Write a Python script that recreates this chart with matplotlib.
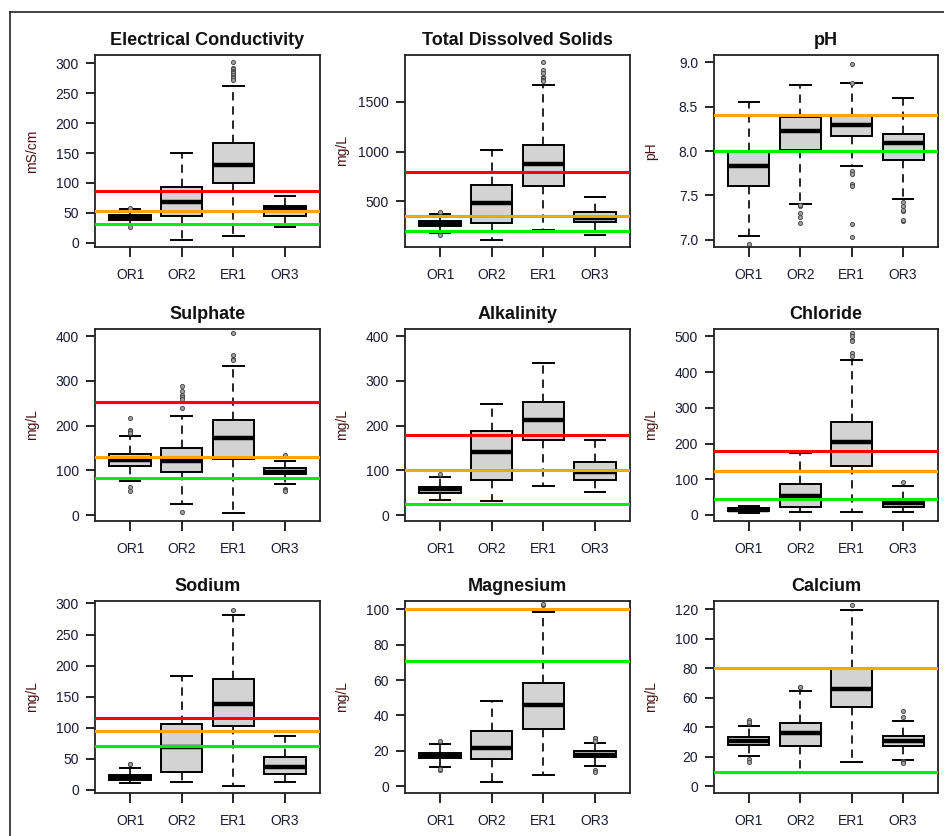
import matplotlib
matplotlib.use("Agg")
import matplotlib.pyplot as plt
from matplotlib.lines import Line2D

plt.rcParams['font.family'] = ['Liberation Sans', 'DejaVu Sans']

sites = ["OR1", "OR2", "ER1", "OR3"]

# per site: [lower whisker, Q1, median, Q3, upper whisker]
ec_stats = [[30, 38, 42, 47, 56], [5, 44, 68, 94, 150], [12, 100, 130, 167, 263], [26, 44, 56, 61, 79]]
ec_fliers = [[58, 26], [], [303, 292, 290, 288, 286, 284, 281, 278, 275, 272], []]
ec_limits = [87, 53, 32]  # red, orange, green

tds_stats = [[180, 250, 275, 300, 370], [117, 283, 483, 667, 1017], [217, 657, 877, 1067, 1663], [167, 290, 333, 393, 543]]
tds_fliers = [[390, 160], [], [1900, 1817, 1783, 1750, 1735, 1720, 1705], []]
tds_limits = [800, 357, 207]

ph_stats = [[7.045, 7.608, 7.826, 7.995, 8.557], [7.405, 8.01, 8.23, 8.38, 8.74], [7.826, 8.17, 8.295, 8.39, 8.765], [7.46, 7.90, 8.09, 8.19, 8.595]]
ph_fliers = [[6.955], [7.38, 7.39, 7.30, 7.26, 7.19], [8.98, 8.77, 7.78, 7.74, 7.62, 7.63, 7.61, 7.18, 7.03], [7.43, 7.38, 7.32, 7.33, 7.21, 7.22]]
ph_limits = [None, 8.41, 8.0]

so4_stats = [[76, 110, 123, 137, 178], [26, 96, 120, 150, 222], [5, 125, 172, 212, 333], [70, 91, 97, 105, 120]]
so4_fliers = [[217, 190, 187, 183, 64, 55], [289, 277, 269, 264, 260, 239, 7], [406, 359, 348, 346], [135, 58, 56, 55]]
so4_limits = [254, 129, 83]

alk_stats = [[35, 50, 58, 64, 86], [32, 79, 142, 187, 249], [66, 168, 213, 252, 339], [51, 79, 96, 118, 168]]
alk_fliers = [[93], [], [], []]
alk_limits = [179, 101, 24]

cl_stats = [[6, 11, 15, 19, 26], [9, 23, 53, 87, 173], [9, 138, 203, 260, 433], [9, 23, 33, 42, 82]]
cl_fliers = [[], [], [509, 500, 491, 486, 453, 444], [93]]
cl_limits = [178, 123, 46]

na_stats = [[11, 16, 20, 24, 35], [13, 28, 68, 106, 183], [6, 102, 138, 178, 281], [13, 26, 37, 52, 86]]
na_fliers = [[42, 41], [], [290], []]
na_limits = [116, 94, 70]

mg_stats = [[11, 16, 17, 19, 24], [2.4, 15.6, 21.6, 31.4, 48], [6.6, 32.3, 45.7, 58.6, 98.7], [11.3, 16.5, 17.9, 19.7, 24.4]]
mg_fliers = [[25.4, 9.4, 9.8], [], [102.4, 102.8], [27.3, 27.5, 25.4, 9.4, 7.9]]
mg_limits = [None, 100, 71]

ca_stats = [[20.8, 28.2, 30.5, 33.2, 40.6], [9, 27.5, 36.1, 43.3, 65], [16.3, 53.7, 65.9, 80.1, 119.6], [18, 27.5, 30.5, 33.9, 44.5]]
ca_fliers = [[45, 43, 43.4, 18.5, 16.5], [67.7, 67.3], [123], [51.2, 46.7, 17, 16.8, 15.8]]
ca_limits = [None, 80, 10]

panels = [
    ("Electrical Conductivity", "mS/cm", ec_stats, ec_fliers, ec_limits, (-7, 314), [0, 50, 100, 150, 200, 250, 300], "{:.0f}"),
    ("Total Dissolved Solids", "mg/L", tds_stats, tds_fliers, tds_limits, (44, 1967), [500, 1000, 1500], "{:.0f}"),
    ("pH", "pH", ph_stats, ph_fliers, ph_limits, (6.918, 9.083), [7.0, 7.5, 8.0, 8.5, 9.0], "{:.1f}"),
    ("Sulphate", "mg/L", so4_stats, so4_fliers, so4_limits, (-13, 416), [0, 100, 200, 300, 400], "{:.0f}"),
    ("Alkalinity", "mg/L", alk_stats, alk_fliers, alk_limits, (-13, 416), [0, 100, 200, 300, 400], "{:.0f}"),
    ("Chloride", "mg/L", cl_stats, cl_fliers, cl_limits, (-17, 521), [0, 100, 200, 300, 400, 500], "{:.0f}"),
    ("Sodium", "mg/L", na_stats, na_fliers, na_limits, (-5.4, 304), [0, 50, 100, 150, 200, 250, 300], "{:.0f}"),
    ("Magnesium", "mg/L", mg_stats, mg_fliers, mg_limits, (-3.8, 104.7), [0, 20, 40, 60, 80, 100], "{:.0f}"),
    ("Calcium", "mg/L", ca_stats, ca_fliers, ca_limits, (-4.5, 125.7), [0, 20, 40, 60, 80, 100, 120], "{:.0f}"),
]

W, H = 944, 836
fig = plt.figure(figsize=(W / 100, H / 100), dpi=100)

col_lr = [(95, 320), (405, 630), (714, 938)]
row_tb = [(55, 247), (329, 521), (601, 793)]
limit_colors = ["#ff0000", "#ffa500", "#00ee00"]
tick_color = "#1a1a33"

for i, (title, ylab, stats, fliers, limits, ylim, yticks, fmt) in enumerate(panels):
    l, r = col_lr[i % 3]
    t, b = row_tb[i // 3]
    ax = fig.add_axes([l / W, 1 - b / H, (r - l) / W, (b - t) / H])

    bxp_stats = []
    for name, s, f in zip(sites, stats, fliers):
        bxp_stats.append({"label": name, "whislo": s[0], "q1": s[1], "med": s[2],
                          "q3": s[3], "whishi": s[4], "fliers": f})
    ax.bxp(bxp_stats, positions=[1, 2, 3, 4], widths=0.8, patch_artist=True,
           boxprops=dict(facecolor="#d3d3d3", edgecolor="black", linewidth=1.4),
           medianprops=dict(color="black", linewidth=3.2, solid_capstyle="butt"),
           whiskerprops=dict(color="black", linewidth=1.2, linestyle=(0, (5, 3.5))),
           capprops=dict(color="black", linewidth=1.4),
           flierprops=dict(marker="o", markersize=3.0, markerfacecolor="#a0a0a0",
                           markeredgecolor="#404040", markeredgewidth=0.6))

    for val, col in zip(limits, limit_colors):
        if val is not None:
            ax.axhline(val, color=col, linewidth=2.2, zorder=5)

    ax.set_xlim(0.32, 4.68)
    ax.set_ylim(*ylim)
    ax.set_yticks(yticks)
    ax.set_yticklabels([fmt.format(v) for v in yticks])
    ax.set_xticks([1, 2, 3, 4])
    ax.set_xticklabels(sites)
    ax.tick_params(axis="x", direction="out", length=7, width=1.2, pad=8,
                   labelsize=10, labelcolor=tick_color)
    ax.tick_params(axis="y", direction="out", length=6.5, width=1.2, pad=5,
                   labelsize=10, labelcolor=tick_color)
    for sp in ax.spines.values():
        sp.set_linewidth(1.3)
        sp.set_color("#222222")

    ax.set_title(title, fontsize=13, fontweight="bold", pad=7, color="#111111")
    ax.set_ylabel(ylab, fontsize=10, color="#4a1515")
    ax.yaxis.set_label_coords(-0.25, 0.5)

# outer frame (left and top edges)
fig.add_artist(Line2D([10 / W, 10 / W], [0, 1 - 12 / H], color="#222222", linewidth=1.2))
fig.add_artist(Line2D([10 / W, 1], [1 - 12 / H, 1 - 12 / H], color="#222222", linewidth=1.2))

fig.savefig("out.png", dpi=100)
